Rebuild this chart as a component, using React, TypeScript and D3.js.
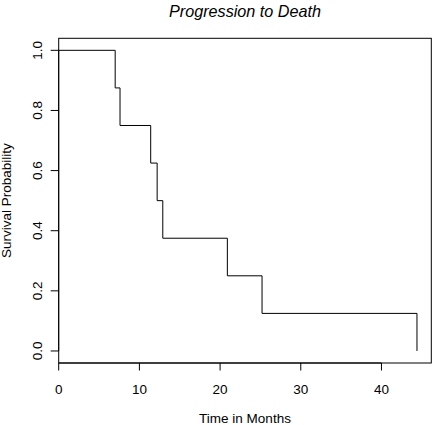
import React from "react";
import * as d3 from "d3";

const title = "Progression to Death";
const xLabel = "Time in Months";
const yLabel = "Survival Probability";

// Kaplan-Meier step data (event times and survival after each event)
const eventTimes = [7.0, 7.6, 11.4, 12.2, 12.9, 20.9, 25.2, 44.4];
const survival = [0.875, 0.75, 0.625, 0.5, 0.375, 0.25, 0.125, 0.0];
const startPoint = { t: 0, s: 1.0 };

const xTicks = [0, 10, 20, 30, 40];
const yTicks = [0.0, 0.2, 0.4, 0.6, 0.8, 1.0];

const W = 432;
const H = 425;
const plotLeft = 58.7;
const plotRight = 431.3;
const plotTop = 38.3;
const plotBottom = 363;

export default function App() {
  const tMax = d3.max(eventTimes) as number;
  const x = d3.scaleLinear().domain([0, tMax * 1.04]).range([plotLeft, plotRight]);
  const y = d3.scaleLinear().domain([-0.04, 1.04]).range([plotBottom, plotTop]);

  const pts: [number, number][] = [[startPoint.t, startPoint.s]];
  eventTimes.forEach((t, i) => pts.push([t, survival[i]]));

  const line = d3
    .line<[number, number]>()
    .x((d) => x(d[0]))
    .y((d) => y(d[1]))
    .curve(d3.curveStepAfter);

  const font = "'Liberation Sans', Arial, Helvetica, sans-serif";
  const fs = 13.5;
  const cx = (plotLeft + plotRight) / 2;
  const cy = (plotTop + plotBottom) / 2;

  return (
    <svg
      width={W}
      height={H}
      style={{ position: "absolute", left: 0, top: 0, background: "#fff" }}
      fontFamily={font}
    >
      <rect x={0} y={0} width={W} height={H} fill="#fff" />
      <text x={cx} y={17} textAnchor="middle" fontSize={16.2} fontStyle="italic" fill="#000">
        {title}
      </text>
      <rect
        x={plotLeft}
        y={plotTop}
        width={plotRight - plotLeft}
        height={plotBottom - plotTop}
        fill="none"
        stroke="#000"
        strokeWidth={1}
      />
      <path d={line(pts) || ""} fill="none" stroke="#000" strokeWidth={1} />
      {/* x axis */}
      <line x1={x(xTicks[0])} x2={x(xTicks[xTicks.length - 1])} y1={plotBottom} y2={plotBottom} stroke="#000" />
      {xTicks.map((t) => (
        <g key={"x" + t}>
          <line x1={x(t)} x2={x(t)} y1={plotBottom} y2={plotBottom + 7.5} stroke="#000" />
          <text x={x(t)} y={393.5} textAnchor="middle" fontSize={fs} fill="#000">
            {t}
          </text>
        </g>
      ))}
      {/* y axis */}
      <line x1={plotLeft} x2={plotLeft} y1={y(yTicks[0])} y2={y(yTicks[yTicks.length - 1])} stroke="#000" />
      {yTicks.map((v) => (
        <g key={"y" + v}>
          <line x1={plotLeft} x2={plotLeft - 8} y1={y(v)} y2={y(v)} stroke="#000" />
          <text
            transform={`translate(42.2,${y(v)}) rotate(-90)`}
            textAnchor="middle"
            fontSize={fs}
            fill="#000"
          >
            {v.toFixed(1)}
          </text>
        </g>
      ))}
      <text x={cx} y={423} textAnchor="middle" fontSize={fs} fill="#000">
        {xLabel}
      </text>
      <text transform={`translate(11.3,${cy}) rotate(-90)`} textAnchor="middle" fontSize={fs} fill="#000">
        {yLabel}
      </text>
    </svg>
  );
}
